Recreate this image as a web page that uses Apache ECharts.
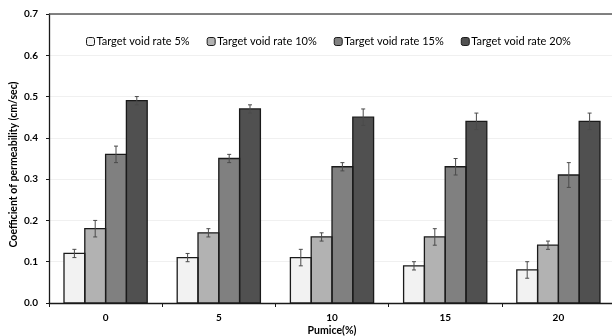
<!DOCTYPE html>
<html>
<head>
<meta charset="utf-8">
<script src="https://cdn.jsdelivr.net/npm/echarts@6/dist/echarts.min.js"></script>
<style>
html,body{margin:0;padding:0;background:#fff;}
#chart{width:612px;height:336px;}
</style>
</head>
<body>
<div id="chart"></div>
<script>
var categories = ['0', '5', '10', '15', '20'];
var seriesNames = ['Target void rate 5%', 'Target void rate 10%', 'Target void rate 15%', 'Target void rate 20%'];
var rate5 = [0.12, 0.11, 0.11, 0.09, 0.08];
var rate10 = [0.18, 0.17, 0.16, 0.16, 0.14];
var rate15 = [0.36, 0.35, 0.33, 0.33, 0.31];
var rate20 = [0.49, 0.47, 0.45, 0.44, 0.44];
var err5 = [0.01, 0.01, 0.02, 0.01, 0.02];
var err10 = [0.02, 0.01, 0.01, 0.02, 0.01];
var err15 = [0.02, 0.01, 0.01, 0.02, 0.03];
var err20 = [0.01, 0.01, 0.02, 0.02, 0.02];
var yTicks = ['0.0', '0.1', '0.2', '0.3', '0.4', '0.5', '0.6', '0.7'];

var values = [rate5, rate10, rate15, rate20];
var errors = [err5, err10, err15, err20];
var colors = ['#f2f2f2', '#b2b2b2', '#808080', '#505050'];
var catGap = 0.265;
var font = 'Lato, "Open Sans", sans-serif';

var chart = echarts.init(document.getElementById('chart'));
var series = [];
values.forEach(function (vals, i) {
  series.push({
    name: seriesNames[i],
    type: 'bar',
    data: vals,
    barGap: 0,
    barCategoryGap: (catGap * 100) + '%',
    itemStyle: { color: colors[i], borderColor: '#1a1a1a', borderWidth: 0 },
    z: 2
  });
});
// outlines and error bars drawn through the axes
values.forEach(function (vals, i) {
  var data = vals.map(function (v, j) { return [j, v, v - errors[i][j], v + errors[i][j]]; });
  series.push({
    type: 'custom',
    name: 'err' + i,
    data: data,
    z: 5,
    silent: true,
    renderItem: function (params, api) {
      var xi = api.value(0);
      var base = api.coord([xi, 0]);
      var top = api.coord([xi, api.value(1)]);
      var lo = api.coord([xi, api.value(2)]);
      var hi = api.coord([xi, api.value(3)]);
      var catW = api.size([1, 0])[0];
      var bw = catW * (1 - catGap) / 4;
      var left = base[0] - 2 * bw + i * bw;
      var x = left + bw / 2;
      var cap = 2;
      var st = { stroke: '#4a4a4a', lineWidth: 1 };
      return {
        type: 'group',
        children: [
          { type: 'rect', shape: { x: left, y: top[1], width: bw, height: base[1] - top[1] },
            style: { fill: null, stroke: '#1a1a1a', lineWidth: 1.3 } },
          { type: 'line', shape: { x1: x, y1: lo[1], x2: x, y2: hi[1] }, style: st },
          { type: 'line', shape: { x1: x - cap, y1: lo[1], x2: x + cap, y2: lo[1] }, style: st },
          { type: 'line', shape: { x1: x - cap, y1: hi[1], x2: x + cap, y2: hi[1] }, style: st }
        ]
      };
    }
  });
});

chart.setOption({
  animation: false,
  backgroundColor: '#ffffff',
  grid: { left: 49, right: -3, top: 14, bottom: 33, containLabel: false, outerBoundsMode: 'none' },
  legend: {
    data: seriesNames,
    top: 31,
    left: 81,
    itemWidth: 8,
    itemHeight: 8,
    itemGap: 17,
    itemStyle: { borderColor: '#1a1a1a', borderWidth: 1 },
    textStyle: { fontFamily: font, fontSize: 11, color: '#000', padding: [0, 0, 0, -3] }
  },
  xAxis: {
    type: 'category',
    data: categories,
    name: 'Pumice(%)',
    nameLocation: 'middle',
    nameGap: 22,
    nameMoveOverlap: false,
    nameTextStyle: { fontFamily: font, fontSize: 10.5, fontWeight: 'bold', color: '#000' },
    axisLine: { lineStyle: { color: '#1a1a1a', width: 1.3 } },
    axisTick: { show: true, length: 4, lineStyle: { color: '#1a1a1a' } },
    axisLabel: { fontFamily: font, fontSize: 10, fontWeight: 'bold', color: '#000', margin: 10 }
  },
  yAxis: {
    type: 'value',
    min: 0,
    max: 0.7,
    interval: 0.1,
    name: 'Coefficient of permeability (cm/sec)',
    nameLocation: 'middle',
    nameGap: 30,
    nameMoveOverlap: false,
    nameTextStyle: { fontFamily: font, fontSize: 10.5, fontWeight: 'bold', color: '#000', padding: [0, 12, 0, 0] },
    axisLine: { show: true, lineStyle: { color: '#1a1a1a', width: 1.3 } },
    axisTick: { show: true, length: 3, lineStyle: { color: '#1a1a1a' } },
    axisLabel: {
      fontFamily: font, fontSize: 10, fontWeight: 'bold', color: '#000', margin: 11,
      formatter: function (v) { return yTicks[Math.round(v * 10)]; }
    },
    splitLine: { show: true, lineStyle: { color: '#f0f0f0', width: 1 } }
  },
  graphic: [],
  series: series
});

// top border line at max value
var topY = chart.convertToPixel({ yAxisIndex: 0 }, 0.7);
var x0 = chart.convertToPixel({ xAxisIndex: 0 }, 0) - chart.getModel().getComponent('xAxis').axis.getBandWidth() / 2;
chart.setOption({
  graphic: [{
    type: 'line', z: 10,
    shape: { x1: x0, y1: topY, x2: 612, y2: topY },
    style: { stroke: '#595959', lineWidth: 1.5 }
  }]
});
</script>
</body>
</html>
